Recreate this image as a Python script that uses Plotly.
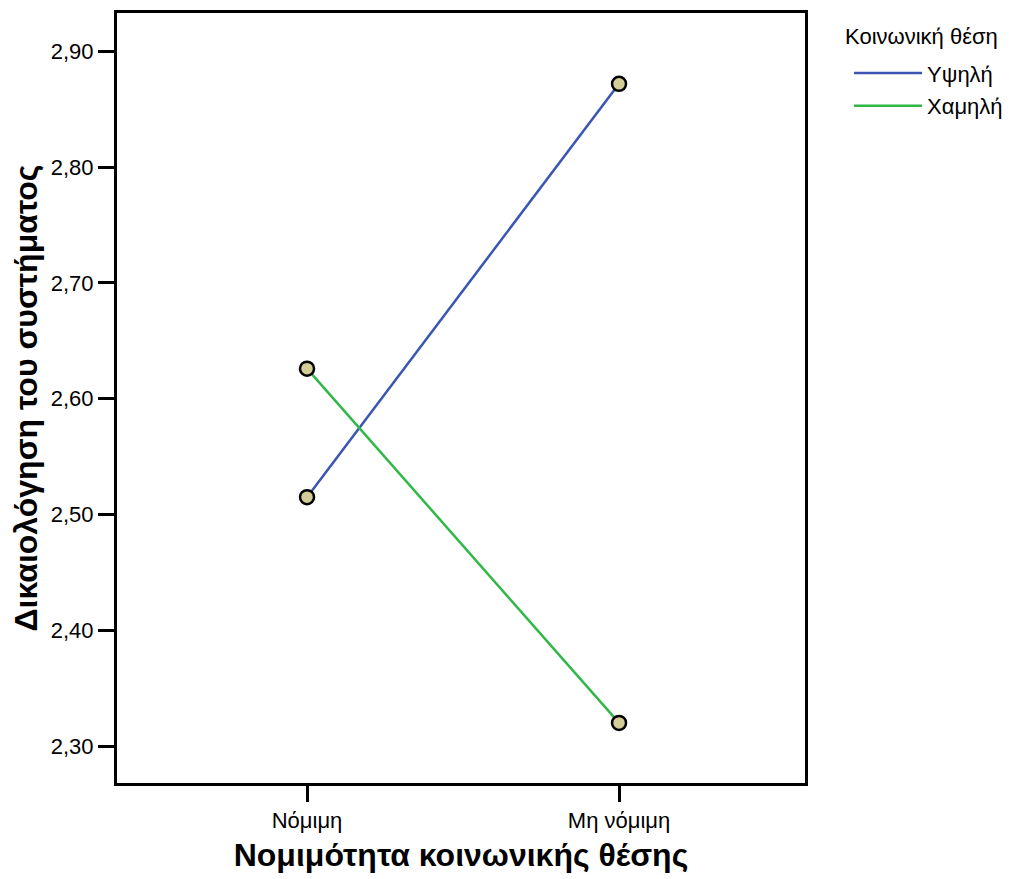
import plotly.graph_objects as go

categories = ["Νόμιμη", "Μη νόμιμη"]
series_names = ["Υψηλή", "Χαμηλή"]
high_values = [2.515, 2.872]
low_values = [2.626, 2.320]
y_ticks = [2.30, 2.40, 2.50, 2.60, 2.70, 2.80, 2.90]
legend_title = "Κοινωνική θέση"
x_title = "Νομιμότητα κοινωνικής θέσης"
y_title = "Δικαιολόγηση του συστήματος"

colors = ["#3a55b2", "#2fb848"]
marker_fill = "#d3ce97"
FONT = "Liberation Sans, Arial, Helvetica, sans-serif"

fig = go.Figure()
for i, (name, vals, col) in enumerate(zip(series_names, [high_values, low_values], colors)):
    fig.add_trace(go.Scatter(
        x=categories, y=vals, mode="lines", name=name, legendgroup=f"g{i}",
        line=dict(color=col, width=2.5),
    ))
for vals in [high_values, low_values]:
    fig.add_trace(go.Scatter(
        x=categories, y=vals, mode="markers", showlegend=False,
        marker=dict(size=14, color=marker_fill, line=dict(color="black", width=2.5)),
        hoverinfo="skip",
    ))

fig.add_annotation(
    text=legend_title, xref="paper", yref="paper",
    x=1.0552, y=0.969, xanchor="left", yanchor="middle",
    showarrow=False, font=dict(size=22, family=FONT, color="black"),
)

fig.update_layout(
    width=1013, height=871,
    margin=dict(l=109, r=216, t=2, b=96),
    plot_bgcolor="white", paper_bgcolor="white",
    separators=",.",
    font=dict(family=FONT, color="black", size=22),
    legend=dict(
        x=1.064, xanchor="left", y=0.949, yanchor="top",
        font=dict(size=22), bgcolor="rgba(0,0,0,0)",
        itemwidth=68, tracegroupgap=1,
    ),
    xaxis=dict(
        type="category", range=[-0.609, 1.596],
        showline=True, linecolor="black", linewidth=3, mirror=True,
        ticks="outside", ticklen=16, tickwidth=3, tickcolor="black",
        showgrid=False, zeroline=False,
        tickfont=dict(size=22),
        title=dict(text="<b>" + x_title + "</b>", font=dict(size=32), standoff=12),
    ),
    yaxis=dict(
        range=[2.2681, 2.9332],
        tickvals=y_ticks, tickformat=".2f",
        showline=True, linecolor="black", linewidth=3, mirror=True,
        ticks="outside", ticklen=16, tickwidth=3, tickcolor="black",
        showgrid=False, zeroline=False,
        tickfont=dict(size=22),
        title=dict(text="<b>" + y_title + "</b>", font=dict(size=32), standoff=8),
    ),
)

fig.write_html("out.html")
